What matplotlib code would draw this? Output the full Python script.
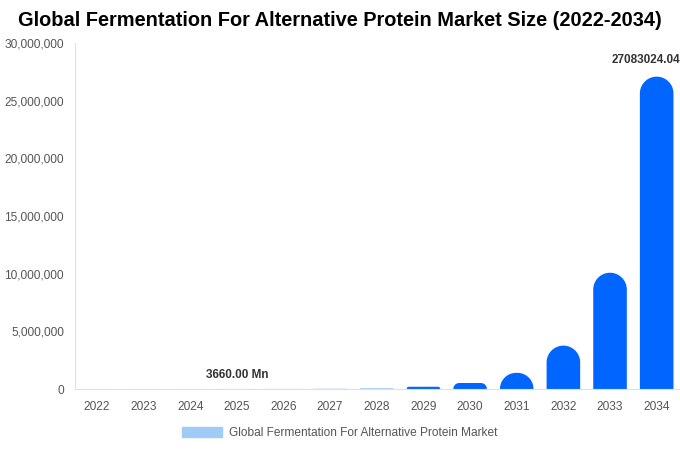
import matplotlib
matplotlib.use('Agg')
import matplotlib.pyplot as plt
import numpy as np
from matplotlib.patches import Polygon, Patch
from matplotlib.ticker import FuncFormatter

plt.rcParams['font.family'] = ['Liberation Sans', 'DejaVu Sans']

years = ['2022', '2023', '2024', '2025', '2026', '2027', '2028',
         '2029', '2030', '2031', '2032', '2033', '2034']
values = [190, 510, 1360, 3660, 9850, 26500, 71500,
          193000, 520000, 1400000, 3760000, 10080000, 27083024.04]
light_years = ['2022', '2023', '2024', '2025', '2026', '2027', '2028']

light = '#a0cbf7'
dark = '#0066ff'

fig = plt.figure(figsize=(6.8, 4.5), dpi=100)
ax = fig.add_axes([75 / 680, 61 / 450, 605 / 680, 346 / 450])

xmin, xmax = -0.47, 12.5
ymax = 30000000
ax.set_xlim(xmin, xmax)
ax.set_ylim(0, ymax)

# сколько единиц y в одной единице x (в пикселях одинаково)
px_x = 605 / (xmax - xmin)
px_y = 346 / ymax
m = px_x / px_y
w = 0.72


def rounded_bar(x, h, color):
    r = min(w / 2, h / m)
    t = np.linspace(np.pi, np.pi / 2, 20)
    left_arc = np.column_stack([x - w / 2 + r + r * np.cos(t), h - r * m + r * m * np.sin(t)])
    t = np.linspace(np.pi / 2, 0, 20)
    right_arc = np.column_stack([x + w / 2 - r + r * np.cos(t), h - r * m + r * m * np.sin(t)])
    pts = np.vstack([[[x - w / 2, 0]], left_arc, right_arc, [[x + w / 2, 0]]])
    ax.add_patch(Polygon(pts, closed=True, color=color, lw=0))


for i, (yr, v) in enumerate(zip(years, values)):
    rounded_bar(i, v, light if yr in light_years else dark)

ax.set_xticks(range(len(years)))
ax.set_xticklabels(years)
ax.yaxis.set_major_formatter(FuncFormatter(lambda v, p: f'{int(v):,}'))
ax.set_yticks(range(0, 30000001, 5000000))
ax.tick_params(axis='both', length=0, labelsize=8.6, colors='#555555')
ax.tick_params(axis='x', pad=9)
ax.tick_params(axis='y', pad=8)

for s in ['top', 'right']:
    ax.spines[s].set_visible(False)
ax.spines['left'].set_color('#e0e0e0')
ax.spines['bottom'].set_color('#e0e0e0')

ax.text(12 - 0.22, 27083024.04 + 1450000, '27083024.04', ha='center', va='center',
        fontsize=8.5, fontweight='bold', color='#333333', clip_on=False)
ax.text(3, 1250000, '3660.00 Mn', ha='center', va='center',
        fontsize=8.5, fontweight='bold', color='#333333')

fig.text(0.5, 1 - 21 / 450, 'Global Fermentation For Alternative Protein Market Size (2022-2034)',
         ha='center', va='center', fontsize=14.4, fontweight='bold', color='black')

fig.legend(handles=[Patch(color=light, label='Global Fermentation For Alternative Protein Market')],
           loc='center', bbox_to_anchor=(0.5, 1 - 433 / 450), frameon=False,
           fontsize=8.6, labelcolor='#555555', handlelength=3.3, handleheight=0.95,
           handletextpad=0.6)

fig.savefig('out.png', dpi=100)
